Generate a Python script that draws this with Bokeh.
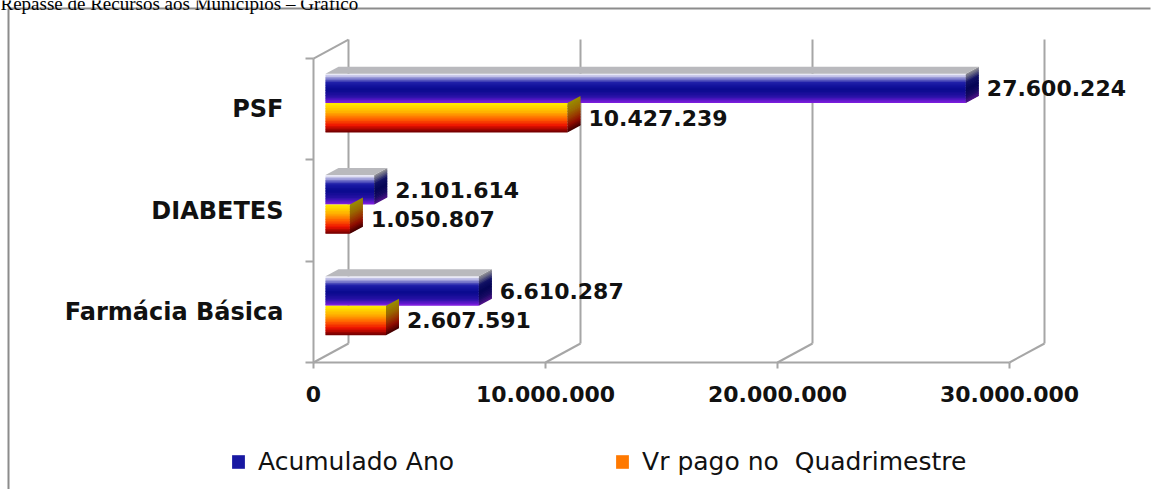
import numpy as np
from bokeh.plotting import figure
from bokeh.models import (Range1d, LinearAxis, FixedTicker, Legend, LegendItem,
                          ColumnDataSource)
from bokeh.core.properties import value
from bokeh.embed import file_html
from bokeh.resources import INLINE

# ---------------- data ----------------
title_text = "Repasse de Recursos aos Municípios – Gráfico"
categories = ["Farmácia Básica", "DIABETES", "PSF"]
acumulado_ano = [6610287, 2101614, 27600224]
vr_pago_quadrimestre = [2607591, 1050807, 10427239]
series_names = ["Acumulado Ano", "Vr pago no  Quadrimestre"]
x_ticks = [0, 10000000, 20000000, 30000000]
x_tick_labels = ["0", "10.000.000", "20.000.000", "30.000.000"]

# ---------------- geometry / style (page pixels) ----------------
FRAME_W, FRAME_H = 1150, 489
PX_X = 23.2 / 1e6          # pixels per unit value
PX_Y = 101.33              # pixels per category
FRONT0_X = 313             # page x of the front plane zero
BAR0_X = 325               # page x where the bars start
BASE_Y = 362               # page y of the front floor
BOX_X, BOX_Y = 8, 8        # outer chart border
BACK_DX, BACK_DY = 35, 19  # depth of the 3-D walls (px)
SIDE_DX, SIDE_DY = 13, 7   # depth of the bars (px)
BAR_H = 0.29
PAIR_OFF = 0.06
N_STRIPES = 18
GRID = "#a6a6a6"
FONT = "DejaVu Sans"

x_start = -BAR0_X / PX_X
f_start = -FRONT0_X / PX_X
y_start = -(FRAME_H - BASE_Y) / PX_Y
y_end = BASE_Y / PX_Y

p = figure(frame_width=FRAME_W, frame_height=FRAME_H,
           x_range=Range1d(x_start, x_start + FRAME_W / PX_X),
           y_range=Range1d(y_start, y_end),
           x_axis_type=None, y_axis_type=None,
           output_backend="svg", toolbar_location=None,
           min_border_left=0, min_border_right=8,
           min_border_top=0, min_border_bottom=0)
p.extra_x_ranges = {"front": Range1d(f_start, f_start + FRAME_W / PX_X)}
p.outline_line_color = None
p.background_fill_color = "white"
p.border_fill_color = "white"

ncat = len(categories)
bdx = BACK_DX / PX_X
bdy = BACK_DY / PX_Y

# ---------------- outer border and (cut) page title ----------------
bx = (BOX_X - FRONT0_X) / PX_X
by = (BASE_Y - BOX_Y) / PX_Y
p.segment(x0=[bx, bx], y0=[by, by], x1=[(FRAME_W + 20 - FRONT0_X) / PX_X, bx],
          y1=[by, y_start - 1], x_range_name="front", line_color="#8c8c8c", line_width=2)
p.text(x=[-FRONT0_X / PX_X], y=[(BASE_Y - 3) / PX_Y], text=[title_text],
       x_range_name="front", text_baseline="alphabetic", text_align="left",
       text_font=value("Liberation Serif"), text_font_size="19px", text_color="#000000")

# ---------------- 3-D walls (front-plane range) ----------------
grid_x = [t + bdx for t in x_ticks]
p.segment(x0=grid_x, y0=[bdy] * len(grid_x), x1=grid_x, y1=[ncat + bdy] * len(grid_x),
          x_range_name="front", line_color=GRID, line_width=2)
p.segment(x0=x_ticks, y0=[0] * len(x_ticks), x1=grid_x, y1=[bdy] * len(grid_x),
          x_range_name="front", line_color=GRID, line_width=2)
p.segment(x0=[0], y0=[ncat], x1=[bdx], y1=[ncat + bdy],
          x_range_name="front", line_color=GRID, line_width=2)

# ---------------- gradient helpers ----------------
def hex2rgb(h):
    h = h.lstrip("#")
    return np.array([int(h[i:i + 2], 16) for i in (0, 2, 4)], dtype=float)

def gradient(stops, t, dark=1.0):
    pos = [s[0] for s in stops]
    cols = [hex2rgb(s[1]) for s in stops]
    rgb = np.array([np.interp(t, pos, [c[k] for c in cols]) for k in range(3)]) * dark
    rgb = np.clip(rgb, 0, 255).astype(int)
    return "#%02x%02x%02x" % tuple(rgb)

blue_stops = [(0.0, "#e8e8f6"), (0.12, "#9a9ad8"), (0.3, "#1c1ca8"),
              (0.55, "#0a0a8e"), (0.8, "#2812a6"), (1.0, "#7a1cdc")]
orange_stops = [(0.0, "#ffe800"), (0.3, "#ffb000"), (0.55, "#ff6000"),
                (0.78, "#ee1200"), (1.0, "#780000")]

sdx = SIDE_DX / PX_X
sdy = SIDE_DY / PX_Y
stripe = BAR_H / N_STRIPES
series = [(acumulado_ano, blue_stops, +1), (vr_pago_quadrimestre, orange_stops, -1)]
bar_renderers = []
for vals, stops, sign in series:
    centers = [i + 0.5 + PAIR_OFF + sign * BAR_H / 2 for i in range(ncat)]
    ys, hs, rights, colors = [], [], [], []
    sxs, sys_, scol = [], [], []
    for i, v in enumerate(vals):
        top = centers[i] + BAR_H / 2
        for k in range(N_STRIPES):
            t = k / (N_STRIPES - 1)
            y_hi = top - k * stripe
            y_lo = y_hi - stripe
            ext = stripe * 0.6 if k < N_STRIPES - 1 else 0.0
            ys.append((y_hi + y_lo - ext) / 2)
            hs.append(stripe + ext)
            rights.append(v)
            colors.append(gradient(stops, t))
            sxs.append([v, v, v + sdx, v + sdx])
            sys_.append([y_lo - ext, y_hi, y_hi + sdy, y_lo - ext + sdy])
            scol.append(gradient(stops, t, dark=0.6))
    src = ColumnDataSource(dict(y=ys, h=hs, right=rights, color=colors))
    r = p.hbar(y="y", left=0, right="right", height="h",
               fill_color="color", line_color=None, source=src)
    bar_renderers.append(r)
    p.patches(xs=sxs, ys=sys_, fill_color=scol, line_color=None)
    if sign > 0:
        tx = [[0, v, v + sdx, sdx] for v in vals]
        ty = [[c + BAR_H / 2, c + BAR_H / 2, c + BAR_H / 2 + sdy, c + BAR_H / 2 + sdy]
              for c in centers]
        p.patches(xs=tx, ys=ty, fill_color="#b9b9bd", line_color=None)
    labels = [f"{v:,}".replace(",", ".") for v in vals]
    p.text(x=vals, y=centers, text=labels, x_offset=SIDE_DX + 8,
           text_baseline="middle", text_align="left", text_font=value(FONT),
           text_font_style="bold", text_font_size="22px", text_color="#111111")

# ---------------- axes (fixed inside the frame) ----------------
xaxis = LinearAxis(x_range_name="front", fixed_location=0,
                   ticker=FixedTicker(ticks=x_ticks, minor_ticks=[]),
                   major_label_overrides={t: l for t, l in zip(x_ticks, x_tick_labels)},
                   bounds=(0, x_ticks[-1]),
                   axis_line_color=GRID, axis_line_width=2,
                   major_tick_line_color=GRID, major_tick_line_width=2,
                   major_tick_out=6, major_tick_in=0,
                   minor_tick_out=0, minor_tick_in=0,
                   major_label_standoff=17,
                   major_label_text_font=FONT, major_label_text_font_style="bold",
                   major_label_text_font_size="22px", major_label_text_color="#111111")
p.add_layout(xaxis, "below")

cat_pos = [i + 0.5 for i in range(ncat)]
yaxis = LinearAxis(x_range_name="front", fixed_location=0,
                   ticker=FixedTicker(ticks=cat_pos, minor_ticks=list(range(ncat + 1))),
                   major_label_overrides={c: n for c, n in zip(cat_pos, categories)},
                   bounds=(0, ncat),
                   axis_line_color=GRID, axis_line_width=2,
                   major_tick_out=0, major_tick_in=0,
                   minor_tick_line_color=GRID, minor_tick_line_width=2,
                   minor_tick_out=8, minor_tick_in=0,
                   major_label_standoff=22,
                   major_label_text_font=FONT, major_label_text_font_style="bold",
                   major_label_text_font_size="24px", major_label_text_color="#111111")
p.add_layout(yaxis, "left")

# ---------------- legend ----------------
legend = Legend(items=[LegendItem(label=series_names[0], renderers=[bar_renderers[0]], index=6),
                       LegendItem(label=series_names[1], renderers=[bar_renderers[1]], index=8)],
                orientation="horizontal", location=(230, 13),
                glyph_width=16, glyph_height=17, label_standoff=12, spacing=160,
                label_text_font=FONT, label_text_font_size="25px",
                label_text_color="#111111",
                border_line_color=None, background_fill_alpha=0, padding=0, margin=0)
p.add_layout(legend, "center")

open("out.html", "w").write(file_html(p, INLINE))
